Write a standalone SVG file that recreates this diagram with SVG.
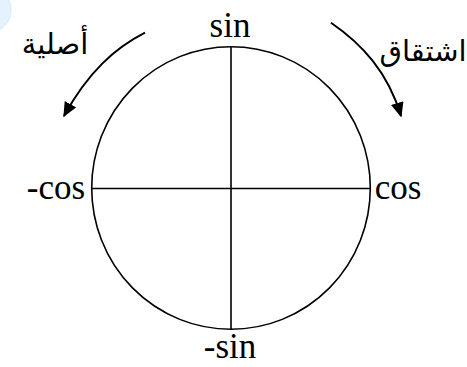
<svg xmlns="http://www.w3.org/2000/svg" width="467" height="367" viewBox="0 0 467 367">
<style>
.ln{fill:none;stroke:#000;stroke-width:1.6}
.arc{fill:none;stroke:#000;stroke-width:2}
.lbl{font-family:"Liberation Serif","Times New Roman",serif;font-size:35px;fill:#000;text-anchor:middle}
.ar{font-family:"DejaVu Sans","Noto Sans",sans-serif;font-size:29px;fill:#000;text-anchor:middle}
</style>
<defs>
<marker id="ah" viewBox="0 0 10 10" refX="9" refY="5" markerWidth="15" markerHeight="13" markerUnits="userSpaceOnUse" orient="auto" preserveAspectRatio="none">
<path d="M0,0 L10,5 L0,10 Z" fill="#000"/>
</marker>
</defs>
<circle cx="-12" cy="10" r="23" fill="#e4f2fd" stroke="#d3e8f8" stroke-width="1"/>
<g id="circle-node">
<ellipse class="ln" cx="231" cy="188" rx="139.3" ry="141.3"/>
</g>
<g id="axes">
<line class="ln" x1="231" y1="46.7" x2="231" y2="329.3"/>
<line class="ln" x1="91.7" y1="188.5" x2="370.3" y2="188.5"/>
</g>
<g id="label-sin"><text class="lbl" x="230" y="37">sin</text></g>
<g id="label-neg-sin"><text class="lbl" x="230" y="358">-sin</text></g>
<g id="label-cos"><text class="lbl" x="398" y="199">cos</text></g>
<g id="label-neg-cos"><text class="lbl" x="56" y="199">-cos</text></g>
<g id="label-asliya"><text class="ar" x="55" y="54" direction="rtl">أصلية</text></g>
<g id="label-ishtiqaq"><text class="ar" x="423" y="61" direction="rtl">اشتقاق</text></g>
<g id="connectors">
<path class="arc" d="M145,32.7 C115,48 88,72 64,116" marker-end="url(#ah)"/>
<path class="arc" d="M331,22.7 C362,44 388,72 401,116" marker-end="url(#ah)"/>
</g>
</svg>
